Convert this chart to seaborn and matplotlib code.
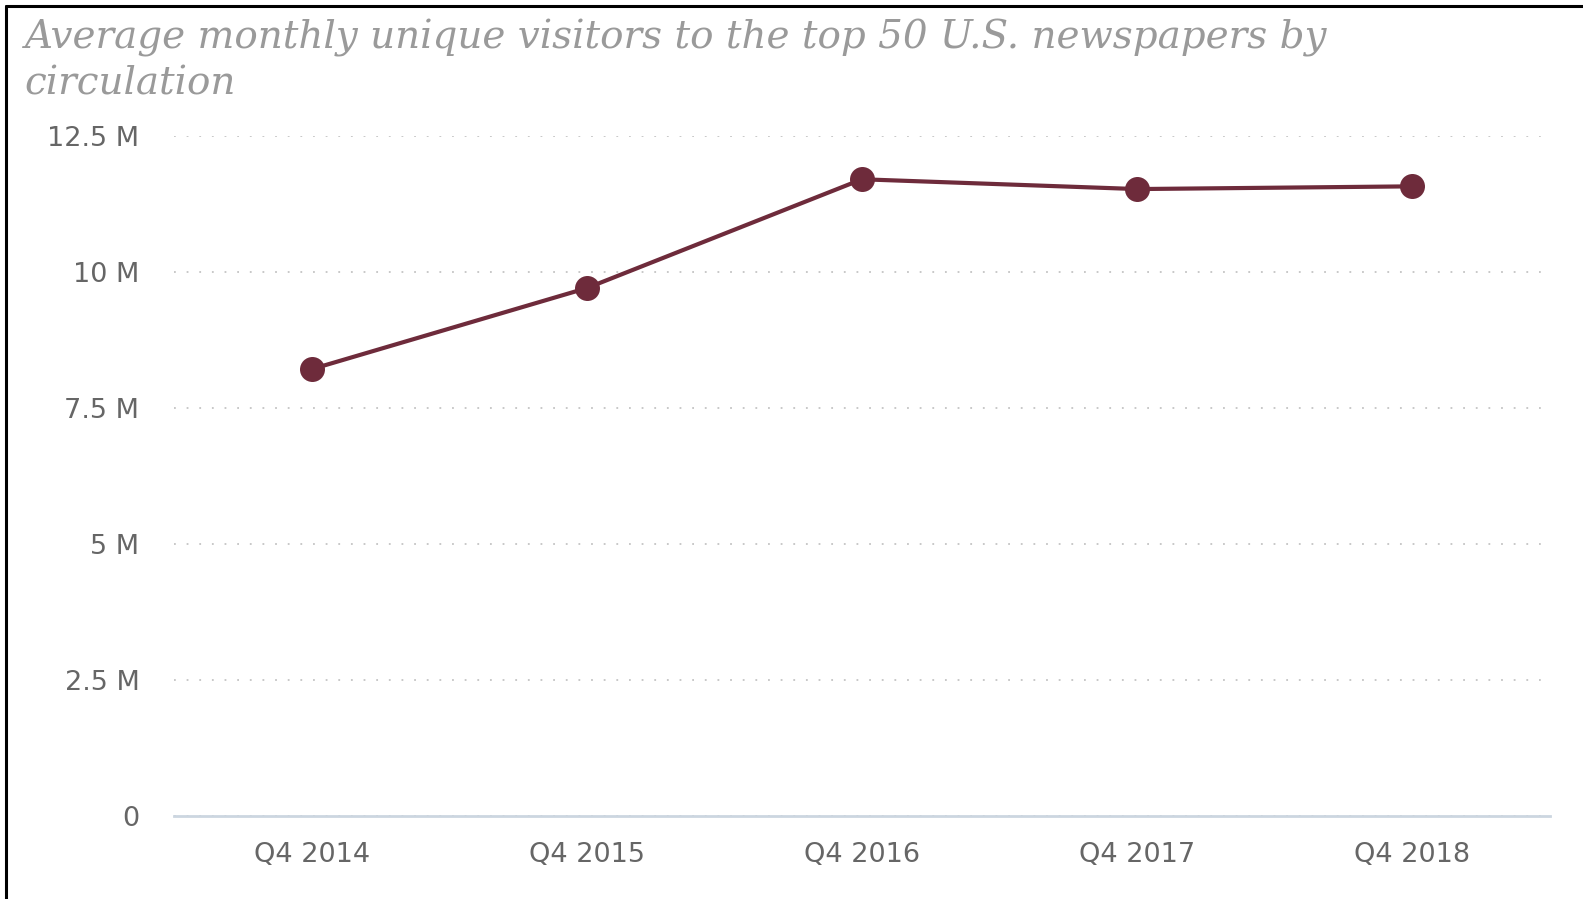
import matplotlib
matplotlib.use("Agg")
import matplotlib.pyplot as plt
from matplotlib.lines import Line2D
from matplotlib.ticker import FuncFormatter, MultipleLocator
import seaborn as sns
import pandas as pd

quarters = ["Q4 2014", "Q4 2015", "Q4 2016", "Q4 2017", "Q4 2018"]
visitors_millions = [8.21, 9.70, 11.70, 11.52, 11.57]

title = "Average monthly unique visitors to the top 50 U.S. newspapers by\ncirculation"

df = pd.DataFrame({"quarter": quarters, "visitors": visitors_millions})

sns.set_theme(style="white")
plt.rcParams["font.family"] = ["DejaVu Sans"]

fig = plt.figure(figsize=(15.83, 8.99), dpi=100)
ax = fig.add_axes([0.110, 0.0925, 0.869, 0.7565])

line_color = "#6e2b3b"
sns.lineplot(data=df, x="quarter", y="visitors", ax=ax, color=line_color,
             linewidth=3, marker="o", markersize=18, markeredgewidth=0,
             sort=False)

ax.set_xlim(-0.5, len(quarters) - 0.5)
ax.set_ylim(0, 12.5)
ax.yaxis.set_major_locator(MultipleLocator(2.5))


def fmt_m(v, pos):
    if abs(v) < 1e-9:
        return "0"
    return f"{v:g} M"


ax.yaxis.set_major_formatter(FuncFormatter(fmt_m))
ax.set_xlabel("")
ax.set_ylabel("")

for s in ["top", "right", "left"]:
    ax.spines[s].set_visible(False)
ax.spines["bottom"].set_color("#ccd6e0")
ax.spines["bottom"].set_linewidth(2)

ax.grid(axis="y", linestyle=(0, (1, 6)), color="#c4c4c4", linewidth=1.3)
ax.grid(axis="x", visible=False)
ax.set_axisbelow(True)

ax.tick_params(axis="both", length=0, labelsize=19.5, colors="#666666")
ax.tick_params(axis="y", pad=25)
ax.tick_params(axis="x", pad=19)

fig.text(0.0155, 0.979, title, ha="left", va="top", family="DejaVu Serif",
         style="italic", fontsize=28, color="#9a9a9a", linespacing=1.3)

# frame along the top and left edges
fig.add_artist(Line2D([6 / 1583, 1.0], [1 - 6 / 899, 1 - 6 / 899],
                      transform=fig.transFigure, color="black", linewidth=2.2))
fig.add_artist(Line2D([6 / 1583, 6 / 1583], [0.0, 1 - 6 / 899],
                      transform=fig.transFigure, color="black", linewidth=2.2))

fig.savefig("out.png", dpi=100, facecolor="white")
